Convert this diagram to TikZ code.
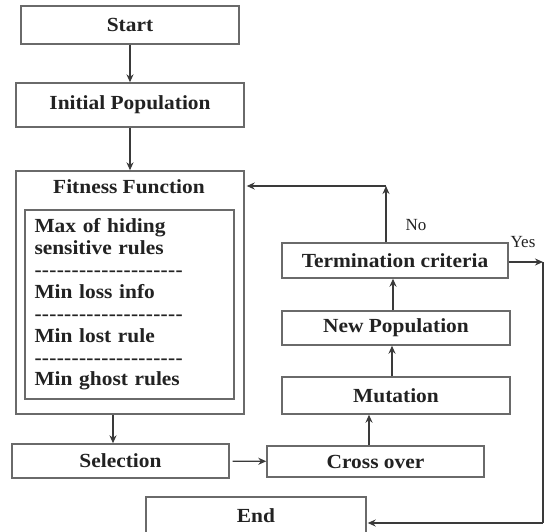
\documentclass[tikz,border=0pt]{standalone}
\usepackage{fontspec}
\setmainfont{Liberation Serif}
\newfontfamily\flowfamily{Liberation Serif}[FakeStretch=1.07]
\usetikzlibrary{arrows.meta,positioning}

\definecolor{boxgray}{HTML}{6A6A6A}
\definecolor{linegray}{HTML}{3A3A3A}
\definecolor{txtgray}{HTML}{222222}

\newcommand\boxfont{\flowfamily\bfseries\fontsize{20}{21.9}\selectfont}
\newcommand\dashrow{\foreach \d in {1,...,20}{-\kern0.3pt}}

\begin{document}
\begin{tikzpicture}[x=1pt,y=-1pt,
		box/.style={draw=boxgray, line width=1.4pt, fill=white, text=txtgray, font=\boxfont, inner sep=0pt},
		flow/.style={draw=linegray, line width=1.3pt, -{Stealth[length=8pt,width=7pt]}},
		lbl/.style={text=txtgray, font=\fontsize{17}{19}\selectfont, inner sep=0pt}]
		\useasboundingbox (0,0) rectangle (547,531);

		% Left column
		\node[box, minimum width=218pt, minimum height=38pt] (start) at (130,25) {Start};
		\node[box, minimum width=228pt, minimum height=44pt] (init) at (130,105) {Initial Population};
		\node[box, minimum width=228pt, minimum height=243pt] (fit) at (130,292.5) {};
		\node[text=txtgray, font=\boxfont, inner sep=0pt] (fittitle) at (129,187) {Fitness Function};
		\node[box, minimum width=209pt, minimum height=189pt, text width=190pt, align=left] (rules) at (129.5,304.5)
			{Max of hiding\\ sensitive rules\\ \dashrow\\ Min loss info\\ \dashrow\\ Min lost rule\\ \dashrow\\ Min ghost rules};
		\node[box, minimum width=217pt, minimum height=34pt] (sel) at (120.5,461) {Selection};

		% Right column
		\node[box, minimum width=217pt, minimum height=31pt] (cross) at (375.5,461.5) {Cross over};
		\node[box, minimum width=228pt, minimum height=37pt] (mut) at (396,395.5) {Mutation};
		\node[box, minimum width=228pt, minimum height=34pt] (newpop) at (396,328) {New Population};
		\node[box, minimum width=226pt, minimum height=35pt] (term) at (395,260.5) {Termination criteria};
		\node[box, minimum width=220pt, minimum height=38pt] (fin) at (256,516) {End};

		% Connectors
		\draw[flow] (start) -- (init);
		\draw[flow] (init) -- (fit);
		\draw[flow] ([xshift=-17pt]fit.south) -- ([xshift=-17pt]fit.south |- sel.north);
		\draw[flow, shorten <=3pt] (sel) -- (cross);
		\draw[flow] ([xshift=-6.5pt]cross.north) -- ([xshift=-6.5pt]cross.north |- mut.south);
		\draw[flow] ([xshift=-4pt]mut.north) -- ([xshift=-4pt]mut.north |- newpop.south);
		\draw[flow] ([xshift=-3pt]newpop.north) -- ([xshift=-3pt]newpop.north |- term.south);

		% Loop back (No)
		\coordinate (back) at (386,186);
		\draw[flow] (term.north -| back) -- (back);
		\draw[flow, shorten >=2pt] (back) -- (fit.east |- back);
		\node[lbl] (no) at (416,225) {No};

		% Exit (Yes)
		\coordinate (yes) at (543,262);
		\coordinate (low) at (543,523);
		\draw[flow] (term.east |- yes) -- (yes);
		\draw[draw=linegray, line width=1.3pt] (yes) -- (low);
		\draw[flow, shorten >=1pt] (low) -- (low -| fin.east);
		\node[lbl] (yeslbl) at (523,242) {Yes};
	\end{tikzpicture}
\end{document}
